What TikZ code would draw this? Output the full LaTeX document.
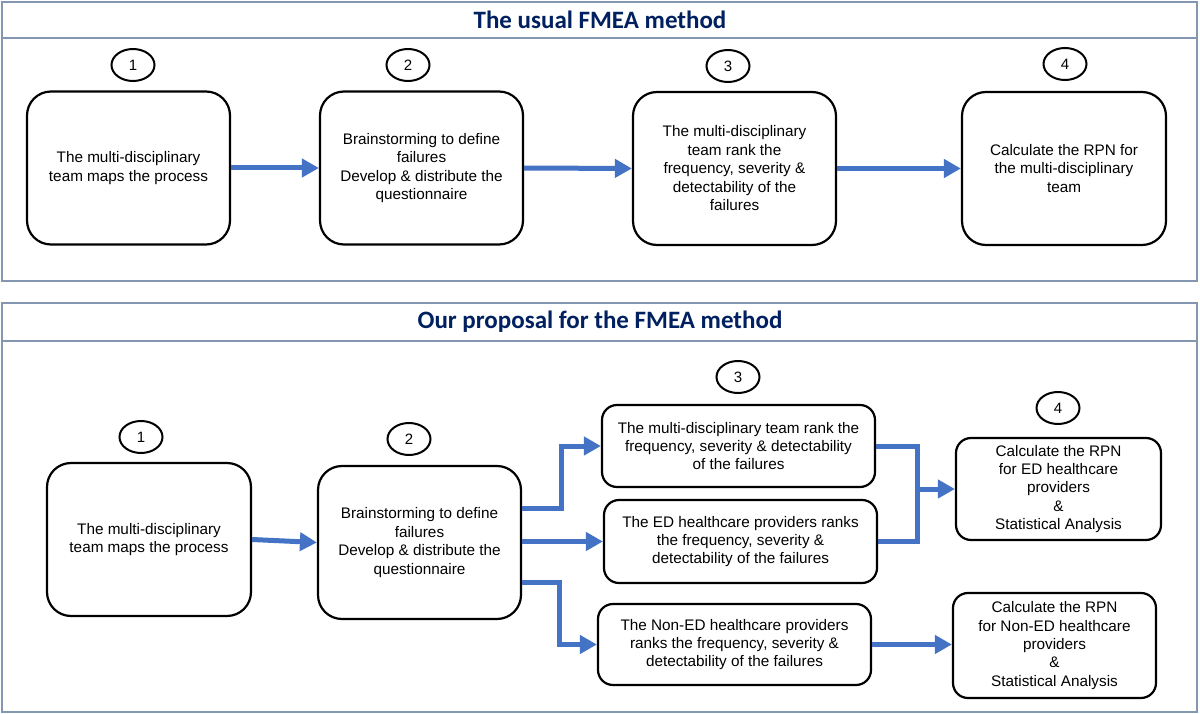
\documentclass[tikz,border=0pt]{standalone}
\usepackage{fontspec}
\setmainfont{Liberation Sans}
\newfontfamily\titlefont{Carlito}
\usetikzlibrary{arrows.meta,shapes.geometric}
\definecolor{arrowblue}{HTML}{4472C4}
\definecolor{navy}{HTML}{002060}
\definecolor{framecol}{HTML}{8497B0}
\begin{document}
\begin{tikzpicture}[x=1pt,y=-1pt,
  bigbox/.style={draw=black, line width=2.2pt, rounded corners=24pt, align=center,
    font=\fontsize{15.3}{18.5}\selectfont, inner sep=0pt},
  smallbox/.style={draw=black, line width=2.2pt, rounded corners=15pt, align=center,
    font=\fontsize{15.3}{18.3}\selectfont, inner sep=0pt},
  num/.style={draw=black, ellipse, line width=2pt, minimum width=43pt, minimum height=32pt,
    inner sep=0pt, font=\fontsize{15}{16}\selectfont},
  flow/.style={draw=arrowblue, line width=5pt, -{Triangle[length=17pt,width=18pt]}},
  merge/.style={draw=arrowblue, line width=5pt, line join=miter},
  panel/.style={draw=framecol, line width=1.3pt},
  paneltitle/.style={text=navy, font=\titlefont\bfseries\fontsize{25}{28}\selectfont}
]
\useasboundingbox (0,0) rectangle (1200,714);
\fill[white] (0,0) rectangle (1200,714);

% ---------------- top panel ----------------
\draw[panel] (2,2) rectangle (1197,281);
\draw[panel] (2,38) -- (1197,38);
\node[paneltitle] (title1) at (600,20) {The usual FMEA method};

\node[num] (tc1) at (133,65) {1};
\node[num] (tc2) at (408,65) {2};
\node[num] (tc3) at (728,66) {3};
\node[num] (tc4) at (1065,64) {4};

\node[bigbox, minimum width=203pt, minimum height=153pt] (t1) at (128.5,168)
  {The multi-disciplinary\\team maps the process};
\node[bigbox, minimum width=203pt, minimum height=153pt] (t2) at (421.5,168)
  {Brainstorming to define\\failures\\Develop \& distribute the\\questionnaire};
\node[bigbox, minimum width=203pt, minimum height=153pt] (t3) at (734.5,168.5)
  {The multi-disciplinary\\team rank the\\frequency, severity \&\\detectability of the\\failures};
\node[bigbox, minimum width=204pt, minimum height=153pt] (t4) at (1064,168.5)
  {Calculate the RPN for\\the multi-disciplinary\\team};

\draw[flow] (t1.east) -- (t2.west);
\draw[flow] (t2.east) -- (t3.west);
\draw[flow] (t3.east) -- (t4.west);

% ---------------- bottom panel ----------------
\draw[panel] (2,303) rectangle (1197,712);
\draw[panel] (2,341) -- (1197,341);
\node[paneltitle] (title2) at (600,322) {Our proposal for the FMEA method};

\node[num] (bc1) at (141,437) {1};
\node[num] (bc2) at (409,439) {2};
\node[num] (bc3) at (738,377) {3};
\node[num] (bc4) at (1058,408) {4};

\node[bigbox, minimum width=204pt, minimum height=153pt] (b1) at (149,539.5)
  {The multi-disciplinary\\team maps the process};
\node[bigbox, minimum width=203pt, minimum height=153pt] (b2) at (419.5,542.5)
  {Brainstorming to define\\failures\\Develop \& distribute the\\questionnaire};

\node[smallbox, minimum width=273pt, minimum height=82pt] (b3a) at (738.5,446)
  {The multi-disciplinary team rank the\\frequency, severity \& detectability\\of the failures};
\node[smallbox, minimum width=273pt, minimum height=83pt] (b3b) at (740.5,541.5)
  {The ED healthcare providers ranks\\the frequency, severity \&\\detectability of the failures};
\node[smallbox, minimum width=273pt, minimum height=81pt] (b3c) at (734.5,644.5)
  {The Non-ED healthcare providers\\ranks the frequency, severity \&\\detectability of the failures};

\node[smallbox, minimum width=205pt, minimum height=102pt] (b4a) at (1058.5,489)
  {Calculate the RPN\\for ED healthcare\\providers\\\&\\Statistical Analysis};
\node[smallbox, minimum width=203pt, minimum height=105pt] (b4b) at (1054.5,645.5)
  {Calculate the RPN\\for Non-ED healthcare\\providers\\\&\\Statistical Analysis};

\draw[flow] (b1.east) -- (b2.west);
\draw[flow] ([yshift=34.5pt]b2.east) -- ++(39,0) |- (b3a.west);
\draw[flow] (b2.east |- b3b.west) -- (b3b.west);
\draw[flow] ([yshift=-39.5pt]b2.east) -- ++(37,0) |- (b3c.west);

\draw[merge] (b3a.east) -- ++(41,0) |- (b3b.east);
\coordinate (j) at (916,489);
\draw[flow] (j) -- (b4a.west);
\draw[flow] (b3c.east) -- (b3c.east -| b4b.west);
\end{tikzpicture}
\end{document}
